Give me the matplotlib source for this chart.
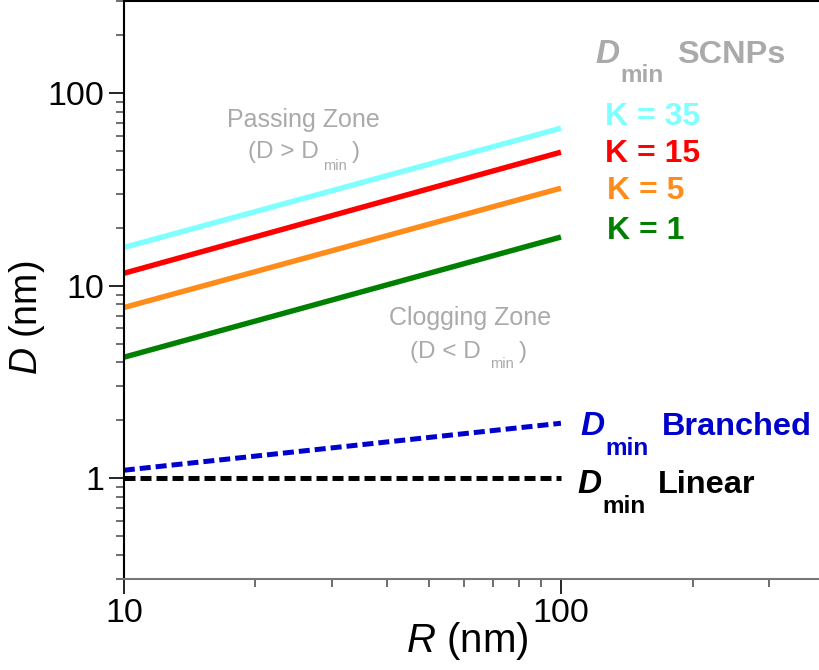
import matplotlib.pyplot as plt
from matplotlib.ticker import LogLocator, NullFormatter, FixedFormatter, FixedLocator

plt.rcParams['font.family'] = ['Liberation Sans', 'DejaVu Sans']
plt.rcParams['mathtext.fontset'] = 'custom'
plt.rcParams['mathtext.rm'] = 'Liberation Sans'
plt.rcParams['mathtext.it'] = 'Liberation Sans:italic'
plt.rcParams['mathtext.bf'] = 'Liberation Sans:bold'

# data (end points of power laws, log-log)
R = [10, 100]
K_labels = ['K = 35', 'K = 15', 'K = 5', 'K = 1']
D_scnp = [[15.8, 65.8], [11.6, 49.4], [7.7, 32.1], [4.25, 17.9]]
scnp_colors = ['#80ffff', '#ff0000', '#ff8c1a', '#008000']
D_branched = [1.10, 1.93]
D_linear = [1.0, 1.0]

W, H = 820, 670
fig = plt.figure(figsize=(W / 100, H / 100), dpi=100)
ax = fig.add_axes([0.151, 0.136, 0.854, 0.862])


def ptext(x, y, s, **kw):
    # place text at pixel position measured from the top-left corner
    kw.setdefault('va', 'baseline')
    kw.setdefault('ha', 'left')
    fig.text(x / W, 1 - y / H, s, **kw)


for d, c in zip(D_scnp, scnp_colors):
    ax.plot(R, d, color=c, lw=3.9, solid_capstyle='butt')
ax.plot(R, D_branched, color='#0000cc', lw=3.6, ls=(0, (2.2, 1.0)))
ax.plot(R, D_linear, color='black', lw=3.6, ls=(0, (2.2, 1.0)))

ax.set_xscale('log')
ax.set_yscale('log')
ax.set_xlim(10, 400)
ax.set_ylim(0.3, 300)

ax.xaxis.set_major_locator(FixedLocator([10, 100]))
ax.xaxis.set_major_formatter(FixedFormatter(['10', '100']))
ax.yaxis.set_major_locator(FixedLocator([1, 10, 100]))
ax.yaxis.set_major_formatter(FixedFormatter(['1', '10', '100']))
ax.xaxis.set_minor_locator(LogLocator(base=10, subs=range(2, 10)))
ax.yaxis.set_minor_locator(LogLocator(base=10, subs=range(2, 10)))
ax.xaxis.set_minor_formatter(NullFormatter())
ax.yaxis.set_minor_formatter(NullFormatter())

ax.tick_params(which='major', length=11, width=1.2, labelsize=24.5, pad=3)
ax.tick_params(which='minor', length=6, width=1.2, color='#555555')
ax.spines['right'].set_visible(False)
ax.spines['bottom'].set_color('#777777')
ax.spines['bottom'].set_linewidth(1.5)
ax.spines['left'].set_linewidth(1.5)
ax.spines['top'].set_linewidth(1.5)

ax.set_xlabel(r'$\mathit{R}$ (nm)', fontsize=29, labelpad=-8)
ax.xaxis.set_label_coords(0.491, -0.072)
ax.set_ylabel(r'$\mathit{D}$ (nm)', fontsize=27)
ax.yaxis.set_label_coords(-0.109, 0.452)

# K labels
k_base = [125, 162, 199, 239]
k_left = [605, 605, 607, 607]
for lab, c, lx, ly in zip(K_labels, scnp_colors, k_left, k_base):
    ptext(lx, ly, lab, color=c, fontsize=23, fontweight='bold')

# D_min labels: (D left, D baseline, min left, min baseline, word left, word baseline)
dmin_labels = [
    ('SCNPs', '#aaaaaa', 595, 63, 620, 82, 677, 63),
    ('Branched', '#0000cc', 580, 435, 605, 455, 662, 435),
    ('Linear', 'black', 577, 493, 602, 513, 658, 493),
]
for word, c, dx, dy, mx, my, wx, wy in dmin_labels:
    ptext(dx, dy, 'D', color=c, fontsize=24, fontweight='bold', fontstyle='italic')
    ptext(mx, my, 'min', color=c, fontsize=17.5, fontweight='bold')
    ptext(wx, wy, word, color=c, fontsize=23.4, fontweight='bold')

# zone annotations
zone_grey = '#aaaaaa'
ptext(303, 127, 'Passing Zone', color=zone_grey, fontsize=18, ha='center')
ptext(248, 158, '(D > D', color=zone_grey, fontsize=17.5)
ptext(323, 170, 'min', color=zone_grey, fontsize=10.5)
ptext(352, 158, ')', color=zone_grey, fontsize=17.5)

ptext(470, 325, 'Clogging Zone', color=zone_grey, fontsize=18, ha='center')
ptext(410, 358, '(D < D', color=zone_grey, fontsize=17.5)
ptext(490, 368, 'min', color=zone_grey, fontsize=10.5)
ptext(519, 358, ')', color=zone_grey, fontsize=17.5)

fig.savefig('out.png', dpi=100)
